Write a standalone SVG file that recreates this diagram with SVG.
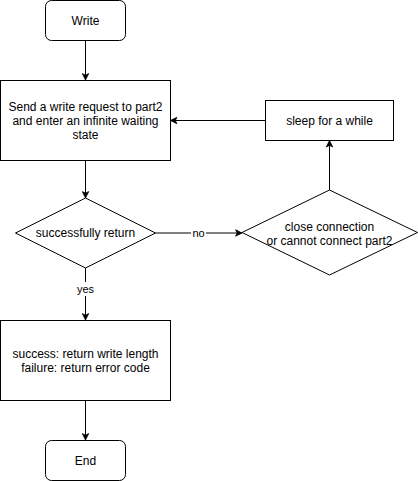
<svg xmlns="http://www.w3.org/2000/svg" width="418" height="481" viewBox="0 0 418 481">
<style>
.n{fill:#fff;stroke:#000;stroke-width:1}
.t{font-family:"Liberation Sans",Arial,sans-serif;font-size:12px;fill:#000;text-anchor:middle;dominant-baseline:central}
.l{font-family:"Liberation Sans",Arial,sans-serif;font-size:11px;fill:#000;text-anchor:middle;dominant-baseline:central}
.c{fill:none;stroke:#000;stroke-width:1}
</style>
<defs>
<marker id="a" viewBox="0 0 10 10" refX="9" refY="5" markerWidth="8" markerHeight="8" markerUnits="userSpaceOnUse" orient="auto">
<path d="M1,1 L9,5 L1,9 L3,5 Z" fill="#000" stroke="#000" stroke-width="1"/>
</marker>
</defs>
<rect width="418" height="481" fill="#fff"/>
<g id="connectors">
<path class="c" d="M85.5,40.5 V80" marker-end="url(#a)"/>
<path class="c" d="M85.5,160.5 V198" marker-end="url(#a)"/>
<path class="c" d="M155.5,233 H242" marker-end="url(#a)"/>
<path class="c" d="M329.5,190 V140.5" marker-end="url(#a)"/>
<path class="c" d="M265.5,120.5 H170.5" marker-end="url(#a)"/>
<path class="c" d="M85.5,268 V320" marker-end="url(#a)"/>
<path class="c" d="M85.5,400.5 V440" marker-end="url(#a)"/>
<rect x="191" y="226" width="15" height="14" fill="#fff"/>
<text class="l" x="198.5" y="233">no</text>
<rect x="75" y="282" width="21" height="14" fill="#fff"/>
<text class="l" x="85.5" y="289">yes</text>
</g>
<g id="write">
<rect class="n" x="45.5" y="0.5" width="80" height="40" rx="6"/>
<text class="t" x="85.5" y="21">Write</text>
</g>
<g id="send">
<rect class="n" x="0.5" y="80.5" width="170" height="80"/>
<text class="t" x="85.5" y="107">Send a write request to part2</text>
<text class="t" x="85.5" y="121">and enter an infinite waiting</text>
<text class="t" x="85.5" y="135">state</text>
</g>
<g id="sleep">
<rect class="n" x="265.5" y="100.5" width="128" height="40"/>
<text class="t" x="329.5" y="121">sleep for a while</text>
</g>
<g id="success">
<polygon class="n" points="85.5,198 155.5,233 85.5,268 15.5,233"/>
<text class="t" x="85.5" y="233">successfully return</text>
</g>
<g id="close">
<polygon class="n" points="329.5,190 417.5,232.5 329.5,275 242,232.5"/>
<text class="t" x="329.5" y="227">close connection</text>
<text class="t" x="329.5" y="241">or cannot connect part2</text>
</g>
<g id="result">
<rect class="n" x="0.5" y="320.5" width="170" height="80"/>
<text class="t" x="85.5" y="354">success: return write length</text>
<text class="t" x="85.5" y="368">failure: return error code</text>
</g>
<g id="end">
<rect class="n" x="45.5" y="440.5" width="80" height="40" rx="6"/>
<text class="t" x="85.5" y="461">End</text>
</g>
</svg>
